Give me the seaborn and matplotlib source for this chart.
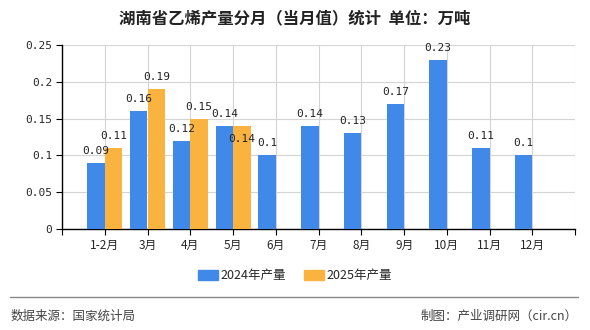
import numpy as np
import pandas as pd
import matplotlib
matplotlib.use("Agg")
import matplotlib.pyplot as plt
from matplotlib.lines import Line2D
import seaborn as sns

categories = ["1-2月", "3月", "4月", "5月", "6月", "7月", "8月", "9月", "10月", "11月", "12月"]
values_2024 = [0.09, 0.16, 0.12, 0.14, 0.1, 0.14, 0.13, 0.17, 0.23, 0.11, 0.1]
values_2025 = [0.11, 0.19, 0.15, 0.14, None, None, None, None, None, None, None]
series_names = ["2024年产量", "2025年产量"]
yticks = [0, 0.05, 0.1, 0.15, 0.2, 0.25]
ytick_labels = ["0", "0.05", "0.1", "0.15", "0.2", "0.25"]

sns.set_theme(style="white")
plt.rcParams['font.family'] = ['Noto Sans CJK SC', 'DejaVu Sans']

rows = []
for c, v in zip(categories, values_2024):
    rows.append({"月份": c, "系列": series_names[0], "产量": v})
for c, v in zip(categories, values_2025):
    rows.append({"月份": c, "系列": series_names[1], "产量": np.nan if v is None else v})
df = pd.DataFrame(rows)

fig = plt.figure(figsize=(5.9, 3.3), dpi=100)
ax = fig.add_axes([0.105, 0.306, 0.87, 0.558])

colors = ["#4189E9", "#FBB33F"]
sns.barplot(data=df, x="月份", y="产量", hue="系列", order=categories,
            hue_order=series_names, palette=colors, width=0.82,
            ax=ax, legend=False, saturation=1, zorder=3, linewidth=0,
            edgecolor="none")

ax.set_xlim(-1, len(categories))
ax.set_ylim(0, 0.25)
ax.set_xticks(range(-1, len(categories) + 1))
ax.set_xticklabels([""] + categories + [""], fontsize=8.5)
ax.set_yticks(yticks)
ax.set_yticklabels(ytick_labels, fontsize=8, family=['DejaVu Sans Mono'])
ax.set_xlabel("")
ax.set_ylabel("")
ax.grid(True, color="#d4d4d4", linewidth=0.8, zorder=0)
ax.set_axisbelow(True)
for s in ["top", "right"]:
    ax.spines[s].set_visible(False)
for s in ["left", "bottom"]:
    ax.spines[s].set_color("black")
    ax.spines[s].set_linewidth(1.0)
ax.tick_params(axis="both", direction="out", length=4, width=0.8, color="black",
               bottom=True, left=True, pad=3)

all_vals = [values_2024, values_2025]
for si, (cont, vals) in enumerate(zip(ax.containers, all_vals)):
    for i, (bar, v) in enumerate(zip(cont, vals)):
        if bar is None or v is None:
            continue
        x = bar.get_x() + bar.get_width() / 2
        dy = 5
        # avoid collision with the neighbouring 2024 label of the same height
        if si == 1 and abs(v - values_2024[i]) < 0.012:
            dy = -13
        ax.annotate(f"{v:g}", (x, bar.get_height()), xytext=(0, dy),
                    textcoords="offset points", ha="center", va="bottom",
                    fontsize=8, family=['DejaVu Sans Mono'], color="#222222",
                    zorder=5)

handles = [plt.Rectangle((0, 0), 1, 1, color=c) for c in colors]
fig.legend(handles, series_names, loc="center", bbox_to_anchor=(0.5, 0.164),
           ncol=2, frameon=False, fontsize=9, handlelength=1.6, handleheight=0.9,
           columnspacing=1.4, handletextpad=0.2)

fig.text(0.5, 0.945, "湖南省乙烯产量分月（当月值）统计  单位：万吨", ha="center", va="center",
         fontsize=11.8, fontweight="bold", color="#222222")

fig.add_artist(Line2D([0.017, 0.98], [0.099, 0.099], color="#888888", linewidth=1.0))
fig.text(0.018, 0.042, "数据来源：国家统计局", ha="left", va="center", fontsize=9, color="#444444")
fig.text(0.979, 0.042, "制图：产业调研网（cir.cn）", ha="right", va="center", fontsize=9, color="#444444")

fig.savefig("out.png", dpi=100)
